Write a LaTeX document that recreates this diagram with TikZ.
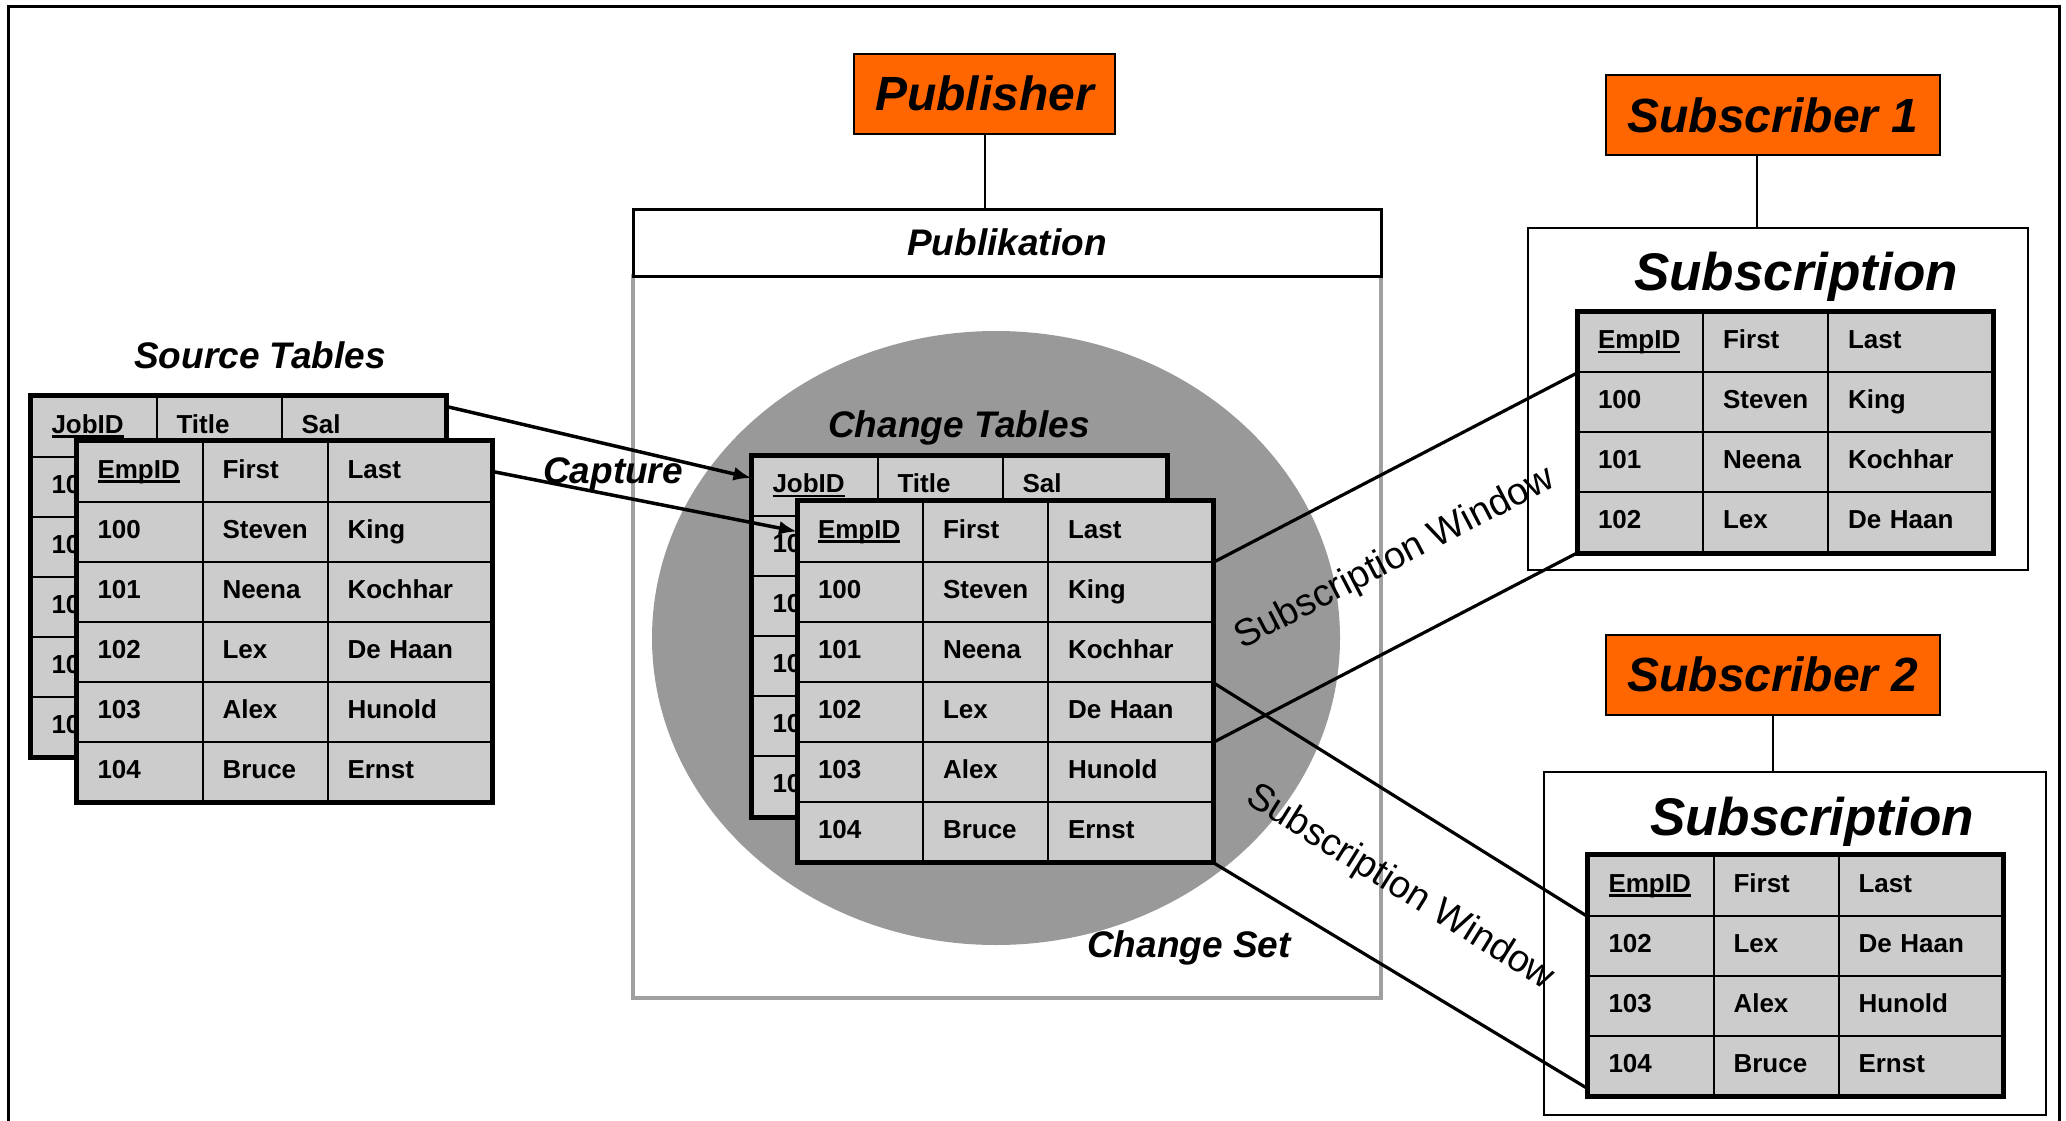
\documentclass[tikz,border=0pt]{standalone}
\usepackage{fontspec}
\setmainfont{Liberation Sans}
\usetikzlibrary{arrows.meta}

\definecolor{cellgray}{RGB}{204,204,204}
\definecolor{setgray}{RGB}{153,153,153}
\definecolor{edgegray}{RGB}{160,160,160}
\definecolor{roleorange}{RGB}{255,102,0}

\newcommand{\cellfont}{\fontsize{26}{30}\selectfont\bfseries}
\newcommand{\labelfont}{\fontsize{37}{44}\selectfont\bfseries\itshape}
\newcommand{\rolefont}{\fontsize{48}{56}\selectfont\bfseries\itshape}
\newcommand{\keyname}[1]{\setbox0\hbox{#1}\rlap{\rule[-4.5pt]{\wd0}{2.2pt}}\box0}

% name, left, top, last row, rows
\newcommand{\dbtable}[5]{%
  \foreach \fa/\fb/\fc [count=\ri from 0] in {#5} {
    \node[cell, text width=85pt] (#1-\ri-1) at (#2, {#3+60*\ri}) {\fa};
    \node[cell, text width=85pt] (#1-\ri-2) at ({#2+125}, {#3+60*\ri}) {\fb};
    \node[cell, text width=124pt] (#1-\ri-3) at ({#2+250}, {#3+60*\ri}) {\fc};
  }
  \draw[tabframe] (#1-0-1.north west) rectangle (#1-#4-3.south east);
}

\tikzset{
  cell/.style={draw, line width=2pt, fill=cellgray, anchor=north west, minimum height=60pt,
    inner xsep=20pt, inner ysep=0pt, align=left, text height=19pt, text depth=6pt, font=\cellfont},
  tabframe/.style={line width=5pt},
  rolebox/.style={draw, line width=2pt, fill=roleorange, minimum height=80pt, font=\rolefont, inner sep=0pt},
  subbox/.style={draw, line width=2.5pt},
  tlabel/.style={font=\labelfont, inner sep=0pt, anchor=base},
  subtitle/.style={font=\fontsize{53}{60}\selectfont\bfseries\itshape, inner sep=0pt, anchor=base},
  winlabel/.style={font=\fontsize{38}{44}\selectfont, inner sep=0pt},
  wire/.style={line width=2pt},
  capline/.style={line width=3.5pt, -{Latex[length=18pt,width=14pt]}},
  winline/.style={line width=3.2pt},
  frameline/.style={line width=3pt}
}

\begin{document}
\begin{tikzpicture}[x=1pt,y=-1pt]
\useasboundingbox (0,0) rectangle (2066,1121);
\draw[frameline] (8.5,1130) -- (8.5,6.5) -- (2059,6.5) -- (2059,1130); % outer frame

% publication area
\draw[edgegray, line width=3.5pt] (633,276) rectangle (1381,998);
\node[draw, line width=3pt, fill=white, minimum width=748pt, minimum height=67pt,
  font=\labelfont, inner sep=0pt] (publikation) at (1007,242.5) {Publikation};
\node[rolebox, minimum width=261pt] (publisher) at (984.5,93.7) {Publisher};
\draw[wire] (publisher.south) -- (publisher.south |- publikation.north);

\fill[setgray] (996,638) ellipse [x radius=344, y radius=307]; % change set

% source tables
\dbtable{srcjob}{30.5}{395.5}{5}{\keyname{JobID}/Title/Sal, 10/{}/{}, 10/{}/{}, 10/{}/{}, 10/{}/{}, 10/{}/{}}
\dbtable{srcemp}{76.5}{440.5}{5}{\keyname{EmpID}/First/Last, 100/Steven/King, 101/Neena/Kochhar,
  102/Lex/De Haan, 103/Alex/Hunold, 104/Bruce/Ernst}
\node[tlabel] (srclabel) at (260,368) {Source Tables};

% change tables
\dbtable{chgjob}{751.5}{455}{5}{\keyname{JobID}/Title/Sal, 10/{}/{}, 10/{}/{}, 10/{}/{}, 10/{}/{}, 10/{}/{}}
\dbtable{chgemp}{797}{500.5}{5}{\keyname{EmpID}/First/Last, 100/Steven/King, 101/Neena/Kochhar,
  102/Lex/De Haan, 103/Alex/Hunold, 104/Bruce/Ernst}
\node[tlabel] (chglabel) at (959,437) {Change Tables};
\node[tlabel] (setlabel) at (1189,957) {Change Set};

% subscribers
\node[rolebox, minimum width=334pt] (subscriber1) at (1773,115) {Subscriber 1};
\node[subbox, minimum width=500pt, minimum height=342pt] (subbox1) at (1778,399) {};
\draw[wire] ([xshift=-16pt]subscriber1.south) -- ([xshift=-16pt]subscriber1.south |- subbox1.north);
\node[subtitle] (sub1title) at (1796,290) {Subscription};
\dbtable{sub1}{1577}{311}{3}{\keyname{EmpID}/First/Last, 100/Steven/King, 101/Neena/Kochhar, 102/Lex/De Haan}

\node[rolebox, minimum width=334pt] (subscriber2) at (1773,674.5) {Subscriber 2};
\node[subbox, minimum width=502pt, minimum height=343pt] (subbox2) at (1795,943.5) {};
\draw[wire] (subscriber2.south) -- (subscriber2.south |- subbox2.north);
\node[subtitle] (sub2title) at (1812,835) {Subscription};
\dbtable{sub2}{1587.5}{854.5}{3}{\keyname{EmpID}/First/Last, 102/Lex/De Haan, 103/Alex/Hunold, 104/Bruce/Ernst}

% capture
\draw[capline] ([yshift=20pt]srcjob-0-3.east) -- ([yshift=8pt]chgjob-0-1.west);
\draw[capline] (srcemp-0-3.east) -- (chgemp-0-1.west);
\node[tlabel] (caplabel) at (613,483) {Capture};

% subscription windows
\draw[winline] (chgemp-0-3.south east) -- (sub1-0-1.south west);
\draw[winline] (chgemp-3-3.south east) -- (sub1-3-1.south west);
\draw[winline] (chgemp-2-3.south east) -- (sub2-0-1.south west);
\draw[winline] (chgemp-5-3.south east) -- ([yshift=8pt]sub2-3-1.south west);
\node[winlabel, rotate=27.5] (win1) at (1395,559) {Subscription Window};
\node[winlabel, rotate=-32] (win2) at (1400,888) {Subscription Window};
\end{tikzpicture}
\end{document}
